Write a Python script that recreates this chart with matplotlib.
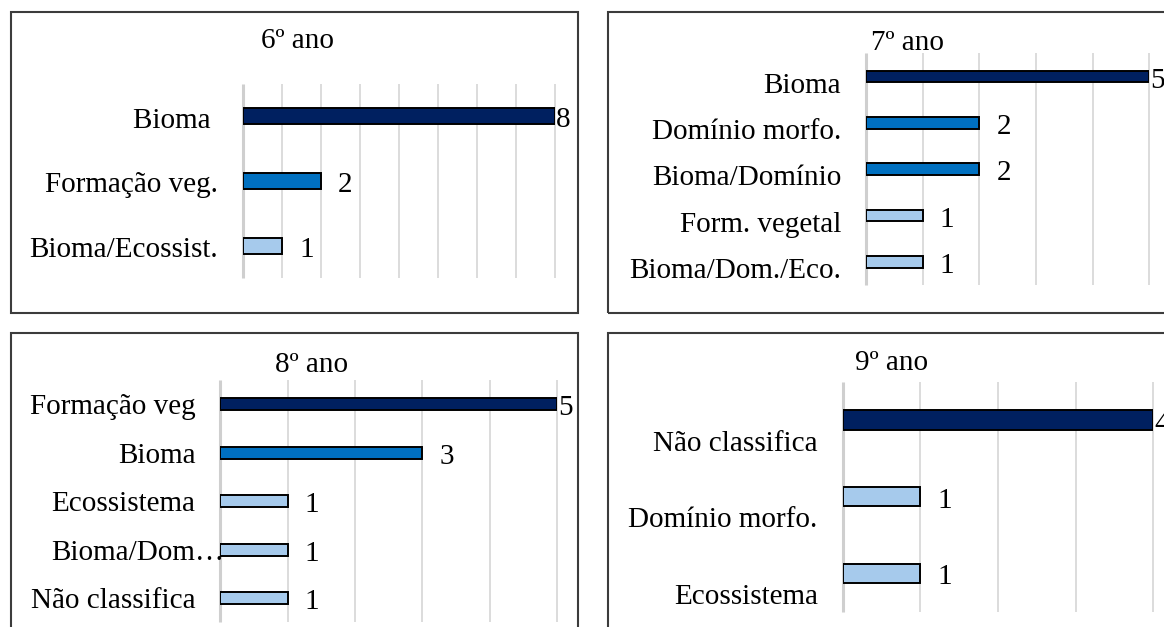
import numpy as np
import matplotlib
matplotlib.use("Agg")
import matplotlib.pyplot as plt
from matplotlib.patches import Rectangle
from matplotlib.transforms import offset_copy

# Dados de cada ano escolar
cat_6 = ["Bioma ", "Formação veg.", "Bioma/Ecossist."]
val_6 = [8, 2, 1]

cat_7 = ["Bioma", "Domínio morfo.", "Bioma/Domínio", "Form. vegetal", "Bioma/Dom./Eco."]
val_7 = [5, 2, 2, 1, 1]

cat_8 = ["Formação veg", "Bioma", "Ecossistema", "Bioma/Dom…", "Não classifica"]
val_8 = [5, 3, 1, 1, 1]

cat_9 = ["Não classifica", "Domínio morfo.", "Ecossistema"]
val_9 = [4, 1, 1]

DARK = "#002060"
MID = "#0070C0"
LIGHT = "#A6CAEC"

W, H = 1164, 627
FS = 21
plt.rcParams["font.family"] = ["Liberation Serif", "DejaVu Serif"]

fig = plt.figure(figsize=(W / 100, H / 100), dpi=100)


def fx(x):
    return x / W


def fy(y):
    return 1 - y / H


def panel(x0, y0, x1, y1):
    r = Rectangle((fx(x0), fy(y1)), fx(x1) - fx(x0), fy(y0) - fy(y1),
                  transform=fig.transFigure, fill=False,
                  edgecolor="#3c3c3c", linewidth=1.5)
    fig.add_artist(r)


def chart(box, cats, vals, xmax, title, title_xy, label_shift=0.0):
    left, top, right, bottom = box
    ax = fig.add_axes([fx(left), fy(bottom), fx(right) - fx(left), fy(top) - fy(bottom)])
    n = len(cats)
    ax.set_xlim(0, xmax)
    ax.set_ylim(n - 0.5, -0.5)

    # grade vertical
    ax.vlines(np.arange(1, xmax + 1), -0.5, n - 0.5, color="#D9D9D9",
              linewidth=1.3, clip_on=False, zorder=1)
    ax.vlines([0], -0.5, n - 0.5, color="#CFCFCF", linewidth=2.2,
              clip_on=False, zorder=1)

    top_v = max(vals)
    colors = [DARK if v == top_v else (MID if v > 1 else LIGHT) for v in vals]
    ypos = np.arange(n)
    ax.barh(ypos, vals, height=0.25, color=colors, edgecolor="black",
            linewidth=1.4, zorder=3)

    for y, v in zip(ypos, vals):
        dx = 1 if v == top_v else 17
        ax.annotate(str(v), (v, y), xytext=(dx, -4), textcoords="offset pixels",
                    ha="left", va="center", fontsize=FS, annotation_clip=False)

    ax.set_yticks(ypos + label_shift)
    ax.set_yticklabels(cats, fontsize=FS)
    ax.tick_params(axis="y", length=0, pad=18)
    ax.set_xticks([])
    for s in ax.spines.values():
        s.set_visible(False)
    ax.patch.set_alpha(0)

    fig.text(fx(title_xy[0]), fy(title_xy[1]), title, fontsize=FS,
             ha="center", va="baseline")
    return ax


# molduras dos quatro gráficos
panel(11, 12, 577.7, 313.3)
panel(607.5, 12, 1200, 313.3)
panel(11, 332.7, 577.7, 700)
panel(607.5, 332.7, 1200, 700)

chart((243.3, 84, 555, 278), cat_6, val_6, 8, "6º ano", (297.5, 48.5), 0.02)
chart((866.3, 53.5, 1149.3, 285), cat_7, val_7, 5, "7º ano", (907.5, 49.5), 0.13)
ax8 = chart((220.4, 380, 557, 622.3), cat_8, val_8, 5, "8º ano", (312, 371.5), 0.0)
chart((842.7, 381.7, 1153.3, 611.7), cat_9, val_9, 4, "9º ano", (892, 369.5), 0.27)

# rótulo abreviado com reticências avança sobre o eixo
lab = ax8.get_yticklabels()[3]
lab.set_transform(offset_copy(lab.get_transform(), fig=fig, x=29, y=0, units="dots"))

fig.savefig("out.png", dpi=100)
